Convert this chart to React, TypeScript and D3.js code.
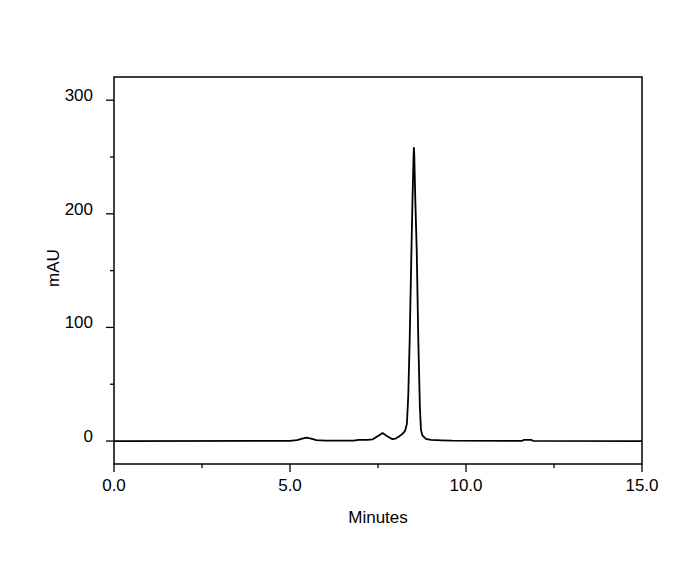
import React, { useEffect, useRef } from "react";
import * as d3 from "d3";

const times = [0, 5.0, 5.2, 5.35, 5.47, 5.6, 5.75, 6.0, 6.8, 6.95, 7.2, 7.35, 7.5, 7.63, 7.75, 7.9, 8.0, 8.1, 8.2, 8.27, 8.32, 8.36, 8.4, 8.45, 8.48, 8.51, 8.52, 8.53, 8.56, 8.6, 8.645, 8.69, 8.72, 8.76, 8.86, 9.0, 9.3, 9.6, 11.6, 11.65, 11.85, 11.9, 15];
const mAU = [0, 0.2, 0.8, 2.2, 3.0, 2.2, 0.8, 0.3, 0.4, 1.0, 1.0, 1.5, 4.5, 7.0, 4.5, 1.8, 2.2, 4.0, 6.5, 9, 15, 40, 89, 168, 212, 250, 258, 252, 212, 168, 89, 30, 10, 5, 2, 1, 0.6, 0.3, 0.2, 1.0, 1.0, 0.2, 0];

const xMajorTicks = [0, 5, 10, 15];
const xMinorTicks = [2.5, 7.5, 12.5];
const yMajorTicks = [0, 100, 200, 300];
const yMinorTicks = [50, 150, 250];

const W = 700, H = 567;
const L = 114, R = 642, T = 77, B = 464;

export default function App() {
  const ref = useRef<SVGSVGElement>(null);
  useEffect(() => {
    const svg = d3.select(ref.current);
    svg.selectAll("*").remove();
    const x = d3.scaleLinear().domain([0, 15]).range([L, R]);
    const y = d3.scaleLinear().domain([-20.2, 320.4]).range([B, T]);
    const font = "Arial, 'Liberation Sans', sans-serif";

    svg.append("rect").attr("width", W).attr("height", H).attr("fill", "#fff");

    const data = times.map((t, i) => [t, mAU[i]] as [number, number]);
    const line = d3.line<[number, number]>().x(d => x(d[0])).y(d => y(d[1]));
    svg.append("path").attr("d", line(data)).attr("fill", "none")
      .attr("stroke", "#000").attr("stroke-width", 1.8).attr("stroke-linejoin", "round");

    svg.append("rect").attr("x", L).attr("y", T).attr("width", R - L).attr("height", B - T)
      .attr("fill", "none").attr("stroke", "#000").attr("stroke-width", 1.5);

    const g = svg.append("g").attr("stroke", "#000").attr("stroke-width", 1.3);
    xMajorTicks.forEach(t => g.append("line").attr("x1", x(t)).attr("x2", x(t)).attr("y1", B).attr("y2", B + 8));
    xMinorTicks.forEach(t => g.append("line").attr("x1", x(t)).attr("x2", x(t)).attr("y1", B).attr("y2", B + 4));
    yMajorTicks.forEach(v => g.append("line").attr("x1", L - 8).attr("x2", L).attr("y1", y(v)).attr("y2", y(v)));
    yMinorTicks.forEach(v => g.append("line").attr("x1", L - 4).attr("x2", L).attr("y1", y(v)).attr("y2", y(v)));

    xMajorTicks.forEach(t => svg.append("text").attr("x", x(t)).attr("y", 485).attr("dy", "0.35em")
      .attr("text-anchor", "middle").attr("font-family", font).attr("font-size", 17).text(t.toFixed(1)));
    yMajorTicks.forEach(v => svg.append("text").attr("x", 93).attr("y", y(v) - 5).attr("dy", "0.35em")
      .attr("text-anchor", "end").attr("font-family", font).attr("font-size", 17).text(String(v)));

    svg.append("text").attr("x", 378).attr("y", 517).attr("dy", "0.35em").attr("text-anchor", "middle")
      .attr("font-family", font).attr("font-size", 17).text("Minutes");
    svg.append("text").attr("transform", `translate(53,268) rotate(-90)`).attr("dy", "0.35em")
      .attr("text-anchor", "middle").attr("font-family", font).attr("font-size", 17).text("mAU");
  }, []);
  return <svg ref={ref} width={W} height={H} style={{ position: "absolute", left: 0, top: 0 }} />;
}
